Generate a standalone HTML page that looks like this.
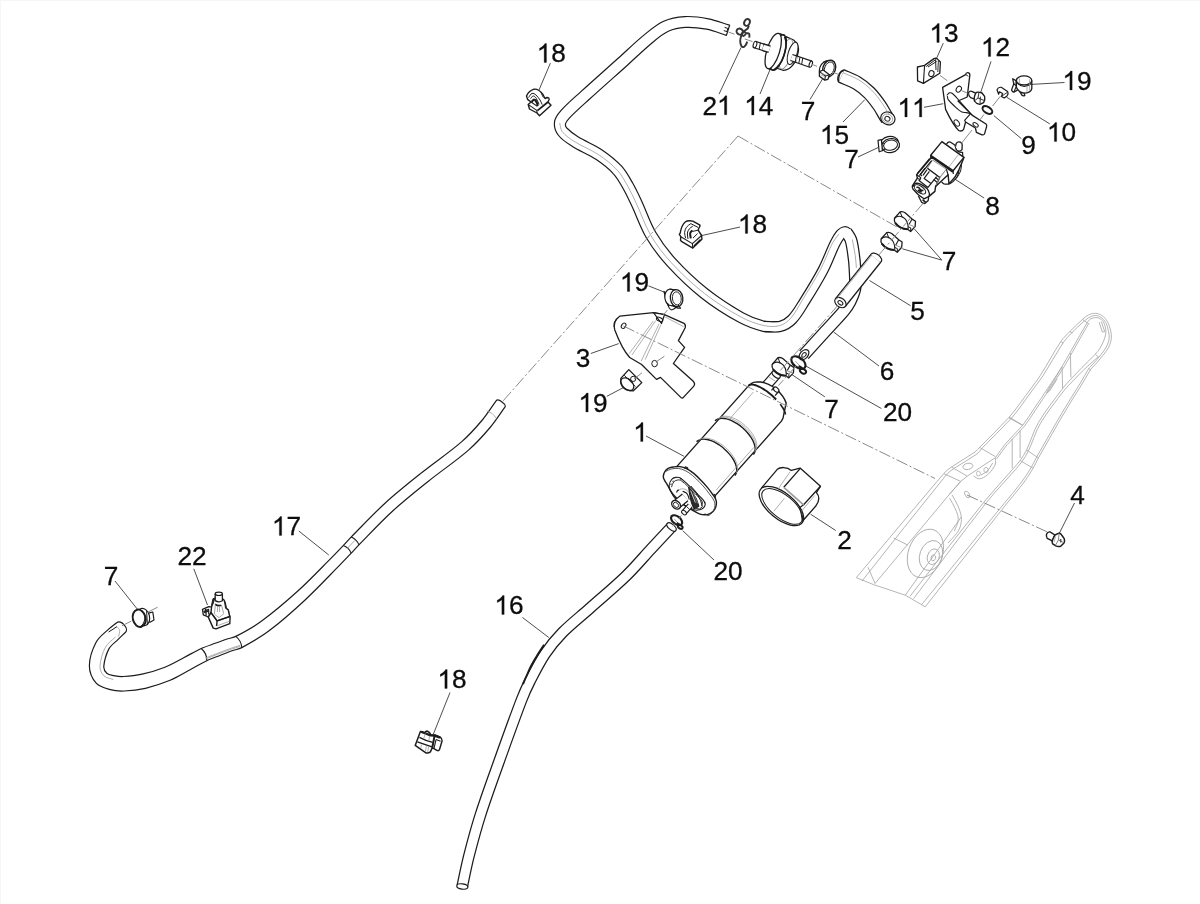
<!DOCTYPE html>
<html><head><meta charset="utf-8"><title>Diagram</title>
<style>
html,body{margin:0;padding:0;background:#fff;}
body{width:1200px;height:904px;overflow:hidden;}
svg{display:block;}
text{font-family:"Liberation Sans",sans-serif;fill:#0c0c0c;stroke:#0c0c0c;stroke-width:0.3px;}
.g{fill:#0c0c0c;stroke:#0c0c0c;stroke-width:24px;}
path,line,ellipse{stroke-linejoin:round;}
</style></head><body>
<svg width="1200" height="904" viewBox="0 0 1200 904">
<rect x="0" y="0" width="1200" height="904" fill="#fff"/>
<path d="M0 0.5H1200M0.5 0V904" stroke="#f6f6f6" stroke-width="1" fill="none" id="edgeline"/>
<g id="frame">
<path d="M856.3 577.7 C885.4 543 914.2 508 943.7 473.6 C945.9 471 948.7 468.9 951.5 467 C959.1 461.7 967.4 457.3 975 452 C976.8 450.8 978.1 448.9 979.6 447.4 C989.4 437.4 999.5 427.7 1009 417.4 C1012.6 413.5 1015.6 409.2 1018.8 405 C1022.6 400.1 1026.2 395 1029.9 390 C1033.5 385.1 1037.2 380.3 1040.5 375.2 C1047.6 364.1 1053.5 352.4 1060.9 341.5 C1063.5 337.6 1067.1 334.4 1070.4 331 C1074.3 327 1078.3 323.1 1082.5 319.4 C1084.4 317.7 1086.3 316 1088.6 314.9 C1090.7 313.9 1093 313.2 1095.3 313.3 C1097.6 313.4 1100 314.2 1101.9 315.5 C1104.2 317 1106 319.2 1107.4 321.6 C1109 324.5 1110 327.8 1110.7 331 C1111.3 333.5 1111.6 336.1 1111.3 338.7 C1110.9 341.8 1109.9 344.8 1108.5 347.6 C1107.1 350.4 1104.9 352.8 1103 355.3 C1101.2 357.6 1099.4 359.8 1097.5 362 C1095.3 364.5 1093 366.8 1090.8 369.2" fill="none" stroke="#adadad" stroke-width="0.9" />
<path d="M862 581 C890.1 545.6 917.7 509.9 946.3 474.9 C948.5 472.2 951.4 470.2 954.2 468.3 C961.6 463.3 969.7 459.2 977 454 C978.9 452.6 980 450.4 981.6 448.7 C991.5 438.4 1001.9 428.5 1011.6 418 C1015 414.3 1018 410.1 1021 406 C1024.9 400.7 1028.6 395.3 1032.5 390 C1036 385.2 1039.8 380.7 1043 375.8 C1050 364.9 1056 353.4 1063.2 342.6 C1065.7 338.9 1068.9 335.8 1072 332.6 C1075.9 328.6 1080 324.7 1084.2 321 C1085.9 319.5 1087.7 318.2 1089.7 317.2 C1091.4 316.3 1093.3 315.5 1095.3 315.5 C1097.2 315.5 1099.2 316.1 1100.8 317.2 C1102.8 318.6 1104.6 320.5 1105.8 322.7 C1107.3 325.4 1107.9 328.5 1108.5 331.5 C1109 333.9 1109.4 336.3 1109.1 338.7 C1108.7 341.6 1107.6 344.4 1106.3 347 C1105 349.6 1103 351.9 1101.3 354.2 C1099.7 356.3 1098.1 358.3 1096.4 360.3 C1094.2 362.8 1091.9 365.2 1089.6 367.6" fill="none" stroke="#adadad" stroke-width="0.9" />
<path d="M1090.8 369.2 C1087.9 374.2 1085 379.2 1082 384.1 C1078.7 389.4 1075.3 394.7 1072 400 C1067.9 406.6 1063.9 413.3 1060 420 C1052.7 432.6 1045.5 445.2 1038.4 457.9 C1036.5 461.3 1035.1 465 1033.1 468.3 C1029.9 473.7 1026.5 479 1022.7 484 C1017.3 491.2 1011.3 497.9 1005.7 504.9 C978.8 538.8 952 572.8 925.2 606.8" fill="none" stroke="#adadad" stroke-width="0.9" />
<path d="M1089.2 367.8 C1086.3 372.9 1083.4 378 1080.4 383 C1077.2 388.4 1073.7 393.6 1070.4 399 C1066.3 405.6 1062.3 412.3 1058.4 419 C1051.1 431.5 1043.9 444.1 1036.8 456.8 C1034.9 460.2 1033.4 463.9 1031.4 467.2 C1028.2 472.5 1024.8 477.8 1021 482.8 C1015.6 490 1009.7 496.7 1004 503.6 C976.5 537.3 949.1 570.9 921.6 604.6" fill="none" stroke="#adadad" stroke-width="0.9" />
<path d="M856.3 577.7 L873.8 584.7 L905.3 595.2 L925.2 606.8" fill="none" stroke="#adadad" stroke-width="0.9" />
<path d="M1087.5 322.1 C1084.9 326.5 1082.3 331 1079.8 335.4 C1076.6 340.9 1073.6 346.5 1070.4 352 C1067.7 356.8 1065 361.7 1062.1 366.4 C1058.9 371.6 1055.5 376.8 1052.1 381.9 C1048.4 387.5 1044.7 393 1041 398.5 C1038.8 401.7 1036.6 405 1034.4 408.2 C1030.5 413.9 1027 419.9 1022.7 425.2 C1017.4 431.7 1011 437.1 1005.7 443.5 C1001.9 448 998.8 453.1 995.3 457.9" fill="none" stroke="#adadad" stroke-width="0.9" />
<path d="M1089 323 C1086.5 327.4 1083.9 331.8 1081.4 336.2 C1078.2 341.7 1075.1 347.3 1072 352.8 C1069.3 357.6 1066.7 362.5 1063.8 367.2 C1060.6 372.5 1057.2 377.6 1053.8 382.8 C1050.1 388.4 1046.3 393.9 1042.6 399.4 C1040.4 402.7 1038.2 405.9 1036 409.2 C1032.1 414.9 1028.7 420.9 1024.4 426.2 C1019.2 432.6 1012.8 438.1 1007.4 444.4 C1003.5 449 1000.2 454.1 996.6 459" fill="none" stroke="#adadad" stroke-width="0.9" />
<path d="M1087.5 322.1 C1088.6 321 1089.4 319.4 1090.8 318.8 C1092.9 317.9 1095.3 317.4 1097.5 317.7 C1099.4 318 1101.2 319.1 1102.4 320.5 C1103.9 322.2 1104.6 324.4 1105.2 326.6 C1105.8 328.7 1106 331 1105.8 333.2 C1105.5 335.9 1104.6 338.4 1103.6 340.9 C1102.5 343.6 1101.2 346.2 1099.7 348.7 C1098.5 350.7 1096.9 352.5 1095.3 354.2 C1091 358.8 1086.4 363 1082 367.5 C1078.3 371.3 1074.5 375.2 1070.9 379.1 C1068.1 382.2 1065.1 385.2 1062.6 388.5 C1054.3 399.7 1045.4 410.6 1038.4 422.6 C1033.4 431.2 1030.9 441 1026.6 450 C1024.8 453.7 1022.5 457.1 1020.1 460.5 C1018.1 463.3 1015.8 465.7 1013.6 468.3 C1004.1 479.2 993.9 489.7 984.8 501 C959.4 532.4 934.9 564.5 910 596.3" fill="none" stroke="#adadad" stroke-width="0.9" />
<path d="M1098 357 C1093.3 361.2 1088.5 365.3 1084 369.6 C1080.2 373.2 1076.7 377 1073.1 380.8 C1070.1 383.9 1066.9 386.8 1064.3 390.2 C1055.9 401.1 1047.2 411.9 1040.2 423.8 C1035.2 432.3 1032.7 442.1 1028.4 451 C1026.6 454.7 1024.4 458.2 1022 461.6 C1020 464.4 1017.7 467 1015.4 469.6 C1005.9 480.6 995.6 491 986.6 502.4 C961.7 534 937.9 566.5 913.6 598.6" fill="none" stroke="#adadad" stroke-width="0.9" />
<path d="M1099.1 322.1 L1102.4 332.1 L1104.7 331.5 L1101.3 321.6" fill="none" stroke="#adadad" stroke-width="0.9" />
<path d="M1070.4 353.1 L1070.9 377.5" fill="none" stroke="#adadad" stroke-width="0.9" />
<path d="M1062.1 367 L1062.6 388.5" fill="none" stroke="#adadad" stroke-width="0.9" />
<path d="M1012.2 439 L1012.2 468.3" fill="none" stroke="#adadad" stroke-width="0.9" />
<path d="M1020.1 430.5 L1020.1 457.9" fill="none" stroke="#adadad" stroke-width="0.9" />
<path d="M1082.5 319.4 L1088.2 323.4" fill="none" stroke="#adadad" stroke-width="0.9" />
<path d="M1069.6 331.4 L1072.6 333" fill="none" stroke="#adadad" stroke-width="0.9" />
<path d="M1060.9 341.5 L1063.4 343" fill="none" stroke="#adadad" stroke-width="0.9" />
<path d="M1095.3 354.2 L1099 357.6" fill="none" stroke="#adadad" stroke-width="0.9" />
<path d="M1088.8 368.4 L1091.2 370.6" fill="none" stroke="#adadad" stroke-width="0.9" />
<path d="M1026.6 450 L1038.4 457.9" fill="none" stroke="#adadad" stroke-width="0.9" />
<path d="M1020.1 460.5 L1033.1 468.3" fill="none" stroke="#adadad" stroke-width="0.9" />
<path d="M979.6 447.4 L995.3 456.6" fill="none" stroke="#adadad" stroke-width="0.9" />
<path d="M951.5 467 L967.2 476.2" fill="none" stroke="#adadad" stroke-width="0.9" />
<path d="M943.7 473.6 L960.7 481.4" fill="none" stroke="#adadad" stroke-width="0.9" />
<path d="M893.7 538 L907.7 545" fill="none" stroke="#adadad" stroke-width="0.9" />
<path d="M868 567.2 L875 583.5" fill="none" stroke="#adadad" stroke-width="0.9" />
<path d="M1009 417.4 L1022.7 425.2" fill="none" stroke="#adadad" stroke-width="1.3" />
<path d="M1062.1 366.4 L1056 377 L1048 390 L1046.6 393 L1049.6 391 L1057 379" fill="none" stroke="#adadad" stroke-width="0.9" />
<path d="M995.3 457.9 L990 461.1 L967.2 476.2 L960.7 481.4 L949.7 494" fill="none" stroke="#adadad" stroke-width="0.9" />
<ellipse cx="967.9" cy="466.4" rx="5" ry="3.1" transform="rotate(-12 967.9 466.4)" fill="none" stroke="#adadad" stroke-width="0.9"/>
<path d="M995.3 457.9 C995.4 459.6 995.8 461.3 995.6 463 C995.4 464.4 994.8 465.8 994 467 C992.1 469.8 990.1 472.7 987.4 474.9 C985.2 476.7 982.5 478.5 979.6 478.8 C977.5 479 975.7 477.1 973.7 476.2" fill="none" stroke="#adadad" stroke-width="0.9" />
<path d="M992.6 463 C990.9 465.7 989.6 468.7 987.4 471 C985.6 472.8 983 473.7 980.8 475" fill="none" stroke="#adadad" stroke-width="0.9" />
<ellipse cx="986" cy="470" rx="2.2" ry="2.6" transform="rotate(0 986 470)" fill="none" stroke="#adadad" stroke-width="0.8"/>
<ellipse cx="978.4" cy="473.6" rx="2" ry="2.4" transform="rotate(0 978.4 473.6)" fill="none" stroke="#adadad" stroke-width="0.8"/>
<ellipse cx="967.2" cy="494.4" rx="2" ry="3.5" transform="rotate(-30 967.2 494.4)" fill="none" stroke="#adadad" stroke-width="0.9"/>
<path d="M960.7 481.4 L949.7 494 L875 583.5" fill="none" stroke="#adadad" stroke-width="0.9" />
<path d="M952 494.8 C954 498.5 956.4 502.1 958 506 C959.5 509.5 960.8 513.2 961.3 517 C961.7 520 961.2 523.1 960.4 526 C959.7 528.6 958.3 531.1 956.7 533.3 C954.1 536.8 950.9 539.8 948 543" fill="none" stroke="#adadad" stroke-width="0.9" />
<path d="M949.6 498.2 C951.5 501.8 953.9 505.2 955.4 509 C956.8 512.4 958.5 515.9 958.3 519.6 C958.1 523.6 955.7 527.2 954.4 531" fill="none" stroke="#adadad" stroke-width="0.9" />
<path d="M961.3 517 L905.3 595.2" fill="none" stroke="#adadad" stroke-width="0.9" />
<ellipse cx="925.4" cy="553.4" rx="17" ry="25" transform="rotate(20 925.4 553.4)" fill="none" stroke="#adadad" stroke-width="0.9"/>
<ellipse cx="931" cy="555.5" rx="11.2" ry="15.4" transform="rotate(20 931 555.5)" fill="none" stroke="#adadad" stroke-width="0.9"/>
<ellipse cx="933.3" cy="556.7" rx="5.8" ry="8" transform="rotate(20 933.3 556.7)" fill="none" stroke="#adadad" stroke-width="0.9"/>
<ellipse cx="933.3" cy="557.8" rx="2.2" ry="3" transform="rotate(20 933.3 557.8)" fill="none" stroke="#adadad" stroke-width="0.9"/>
</g>
<g id="hoseA">
<path d="M729.6 25.2 C722.5 23.1 715.7 20.2 708.5 18.8 C700.7 17.3 692.7 16.2 684.7 16.6 C677.5 17 670.2 18.3 663.7 21.3 C656.4 24.6 650.2 30 643.9 35.1 C635.2 42.2 627.1 50.2 618.7 57.8 C606.2 69 593.6 80.1 581.2 91.4 C574.3 97.7 567 103.7 560.9 110.7 C558 114 554.9 117.8 554.5 122.2 C554 126.6 555.5 131.4 558.2 135 C561.7 139.8 567 143 572 146.2 C579.6 151.1 588.3 154.2 595.9 159.3 C602.2 163.5 608.3 168.2 613.4 173.8 C617.5 178.1 620.3 183.6 623.2 188.7 C626.3 194.1 628.9 199.7 631.5 205.3 C636.6 216.1 640.3 227.5 646.3 237.7 C652.4 247.9 659.6 257.4 667.6 266.1 C678 277.4 689.1 288.1 701.2 297.7 C712.9 306.9 725.5 314.9 738.5 322.1 C746.1 326.2 754.4 329.3 762.9 331.3 C768.4 332.5 774.2 331.4 779.9 331.5 C779.9 331.5 780.1 321.5 780.1 321.5 C775.1 321.4 770 322.5 765.1 321.3 C757.6 319.6 750.3 316.7 743.5 312.9 C731 306 719 298.2 707.8 289.3 C696.2 280.1 685.4 269.9 675.4 258.9 C668 250.8 661.2 241.8 655.7 232.3 C649.8 222.3 646.4 211.1 641.5 200.7 C638.7 194.8 636 188.9 632.8 183.3 C629.4 177.4 626.2 171.2 621.6 166.2 C615.9 160 609.1 154.7 602.1 149.9 C594.5 144.8 585.8 141.6 578 136.8 C574 134.3 570.1 131.4 566.8 128 C565.8 126.9 565.2 125.2 565.5 123.8 C566 121.7 567.6 119.9 569.1 118.3 C575.4 111.8 582.2 105.8 588.8 99.8 C601.2 88.5 613.8 77.4 626.3 66.2 C634.6 58.7 642.5 50.9 651.1 43.7 C656.5 39.2 661.9 34.3 668.3 31.3 C673.6 28.8 679.5 27.7 685.3 27.4 C692.4 27 699.5 27.9 706.5 29.2 C713.3 30.5 719.8 33.3 726.4 35.4 C726.4 35.4 729.6 25.2 729.6 25.2 Z" fill="#fff" stroke="#1c1c1c" stroke-width="1.2" />
<path d="M846 231.8 C847.6 234.4 849.8 236.8 850.8 239.7 C852.4 244.6 852.9 249.7 853.6 254.8 C854.3 259.2 854.7 263.6 854.9 268 C855.2 274.8 856 281.6 855 288.3 C854.2 293.3 851.8 298 849.6 302.6 C848.1 305.6 846.1 308.3 843.9 310.9 C837.5 318.4 830.6 325.5 824 332.8 C817.3 340.1 810.7 347.4 804 354.7" fill="none" stroke="#1c1c1c" stroke-width="12.8" />
<path d="M764 326.3 C769.3 326.4 774.8 327.8 780 326.5 C784.5 325.4 788.8 322.8 792 319.5 C797.1 314.3 800.6 307.7 804.5 301.5 C811 291.2 817.4 280.9 823 270.2 C827.5 261.7 830.6 252.5 834.8 243.9 C836.4 240.6 838.1 237.4 840.4 234.6 C841.6 233.2 843.2 231.9 845 231.7 C846.4 231.6 847.3 233.1 848.5 233.8" fill="none" stroke="#1c1c1c" stroke-width="11.2" />
<path d="M846 231.8 C847.6 234.4 849.8 236.8 850.8 239.7 C852.4 244.6 852.9 249.7 853.6 254.8 C854.3 259.2 854.7 263.6 854.9 268 C855.2 274.8 856 281.6 855 288.3 C854.2 293.3 851.8 298 849.6 302.6 C848.1 305.6 846.1 308.3 843.9 310.9 C837.5 318.4 830.6 325.5 824 332.8 C817.3 340.1 810.7 347.4 804 354.7" fill="none" stroke="#fff" stroke-width="10.3" />
<path d="M764 326.3 C769.3 326.4 774.8 327.8 780 326.5 C784.5 325.4 788.8 322.8 792 319.5 C797.1 314.3 800.6 307.7 804.5 301.5 C811 291.2 817.4 280.9 823 270.2 C827.5 261.7 830.6 252.5 834.8 243.9 C836.4 240.6 838.1 237.4 840.4 234.6 C841.6 233.2 843.2 231.9 845 231.7 C846.4 231.6 847.3 233.1 848.5 233.8" fill="none" stroke="#fff" stroke-width="8.8" />
<path d="M704.5 293.5 C716.7 301.5 728.2 310.5 741 317.5 C748.2 321.5 756 324.5 764 326.3 C769.2 327.5 774.7 326.4 780 326.5" fill="none" stroke="#fff" stroke-width="8" />
<path d="M559.7 123.1 C560.6 126 560.4 129.4 562.3 131.7 C565.6 135.9 570.3 138.9 574.8 141.8 C582.5 146.6 591.3 149.8 598.8 154.8 C605.5 159.3 611.9 164.3 617.3 170.2 C621.6 174.9 624.6 180.6 627.7 186.1 C630.9 191.6 633.5 197.4 636.2 203.1 C641.2 213.7 644.8 225.1 650.7 235.2 C656.5 245 663.5 254.3 671.3 262.7 C681.5 273.8 692.6 284.2 704.5 293.5 C716 302.4 728.4 310.3 741.2 317.1 C748.4 321 756.2 323.9 764.2 325.6 C769.2 326.7 774.8 327 779.8 325.6 C784 324.4 787.8 321.5 790.7 318.2 C795.5 312.9 798.6 306.2 802.3 300.1 C808.6 289.8 815.1 279.6 820.7 269 C825.2 260.5 828.2 251.3 832.6 242.8 C834.4 239.6 836.9 236.8 839 233.8" fill="none" stroke="#9a9a9a" stroke-width="0.8" />
<path d="M852.3 239.4 C853.2 244.5 854.4 249.5 855.1 254.6 C855.8 259 856 263.4 856.4 267.9" fill="none" stroke="#9a9a9a" stroke-width="0.8" />
<path d="M724.6 27.4 L727.8 28.4 L727 31.6 L723.8 30.6" fill="#fff" stroke="#1c1c1c" stroke-width="1" />
</g>
<ellipse cx="804" cy="354.7" rx="5.9" ry="3.9" transform="rotate(-48 804 354.7)" fill="#fff" stroke="#1c1c1c" stroke-width="1.2"/>
<ellipse cx="804" cy="354.9" rx="2.7" ry="1.7" transform="rotate(-48 804 354.9)" fill="none" stroke="#1c1c1c" stroke-width="1"/>
<g id="hose5">
<ellipse cx="876.2" cy="257.8" rx="6.3" ry="3.6" transform="rotate(37 876.2 257.8)" fill="#fff" stroke="#1c1c1c" stroke-width="1.2"/>
<path d="M875.6 258.6 L840.4 302.6" fill="none" stroke="#1c1c1c" stroke-width="13.7" stroke-linecap="butt"/>
<path d="M875.6 258.6 L840.4 302.6" fill="none" stroke="#fff" stroke-width="11.2" stroke-linecap="butt"/>
<ellipse cx="840.4" cy="302.6" rx="6.3" ry="4.4" transform="rotate(37 840.4 302.6)" fill="#fff" stroke="#1c1c1c" stroke-width="1.2"/>
<ellipse cx="840.4" cy="302.8" rx="2.8" ry="1.8" transform="rotate(37 840.4 302.8)" fill="none" stroke="#1c1c1c" stroke-width="1"/>
<line x1="872" y1="255" x2="836.6" y2="299.4" stroke="#9a9a9a" stroke-width="0.8" />
</g>
<g id="hose17">
<path d="M496.1 400.8 C491.4 407.4 487.1 414.3 481.9 420.5 C475.5 428.1 468.9 435.5 461.5 441.9 C448.8 452.9 434.7 462.3 421.6 472.8 C409.3 482.6 396.9 492.4 385.3 503 C373.4 513.8 362.4 525.7 351.1 537.1 C348.4 539.9 345.9 542.8 343.2 545.6 C339.9 549.1 336.5 552.7 333.1 556.1 C321.5 567.7 310.3 579.7 298.1 590.8 C286.3 601.5 274.2 611.9 261.3 621.3 C253.4 627.1 244.6 631.8 235.8 636.4 C233.4 637.7 230.5 637.9 227.9 638.8 C223.6 640.2 219.4 641.8 215.2 643.3 C210.5 645 205.7 646.5 201.2 648.5 C195.2 651.3 189.6 654.7 183.7 657.7 C177.5 661 171.4 664.6 164.9 667.2 C157.5 670.1 149.9 672.4 142.1 674.2 C136 675.6 129.7 676.2 123.4 676.5 C120.2 676.7 116.9 676.2 113.8 675.6 C111.4 675.1 108.6 674.9 106.8 673.2 C105 671.6 103.6 668.9 103.8 666.4 C104.4 660.4 106.1 654.3 108.9 648.9 C110.9 645.1 114.8 642.7 117.9 639.6 C120.3 637.2 122.8 634.9 125.3 632.5 C129.5 628.8 120.9 619 116.7 622.7 C113.9 625 110.8 627.1 108.1 629.6 C103.9 633.6 98.7 637.1 96.1 642.3 C92.3 649.6 89.3 657.8 89.4 666 C89.4 672.1 92.1 678.5 96.2 683.2 C99.6 687 105.3 688.2 110.2 689.6 C114.7 690.9 119.4 691.2 124.1 691 C131.2 690.7 138.4 689.9 145.4 688.3 C153.8 686.4 162.1 683.6 170.1 680.3 C177.1 677.4 183.4 673.3 190.1 669.8 C195.7 666.8 201.1 663.4 206.8 660.7 C211 658.7 215.5 657.2 219.8 655.5 C223.9 653.9 228 652.3 232.1 650.8 C235.3 649.7 238.8 649.2 241.8 647.6 C251 642.6 260.3 637.5 268.7 631.1 C281.7 621.3 293.9 610.4 305.9 599.2 C318 587.9 329.3 575.7 340.9 563.9 C344.4 560.4 347.8 556.8 351.2 553.2 C353.8 550.4 356.3 547.6 358.9 544.9 C370.1 533.5 380.9 521.8 392.7 511 C404.1 500.5 416.3 490.9 428.4 481.2 C441.6 470.6 455.8 461.2 468.5 450.1 C476.4 443.2 483.4 435.4 490.1 427.5 C495.5 421.1 500 413.9 504.9 407.2 C506.9 404.4 498.2 398 496.1 400.8 Z" fill="#fff" stroke="#1c1c1c" stroke-width="1.2" />
<path d="M351.1 537.1 Q356.7 539.3 358.9 544.9" fill="none" stroke="#1c1c1c" stroke-width="1.1" />
<path d="M343.2 545.6 Q348.9 547.7 351.2 553.2" fill="none" stroke="#1c1c1c" stroke-width="1.1" />
<path d="M235.8 636.4 Q241.3 640.7 241.8 647.6" fill="none" stroke="#1c1c1c" stroke-width="1.1" />
<path d="M201.2 648.5 Q206.9 653.2 206.8 660.7" fill="none" stroke="#1c1c1c" stroke-width="1.1" />
<path d="M239.9 645.4 C237 646.4 234.1 647.2 231.2 648.2 C227 649.6 222.9 651.2 218.8 652.8 C214.3 654.5 209.8 656.2 205.3 658" fill="none" stroke="#9a9a9a" stroke-width="0.8" />
<path d="M240.2 646.4 C237.3 647.3 234.4 648.1 231.5 649.1 C227.4 650.6 223.2 652.2 219.1 653.7 C214.6 655.4 210.1 657.2 205.7 658.9" fill="none" stroke="#9a9a9a" stroke-width="0.8" />
<path d="M354.6 540.6 L346.8 549" fill="none" stroke="#9a9a9a" stroke-width="0.8" />
<path d="M113.3 679.5 C110.2 678.3 106.3 678.2 104 675.9 C101.5 673.4 99.8 669.8 100 666.3 C100.4 659.7 102.4 653 105.5 647.2 C107.7 643 112.1 640.4 115.5 636.9" fill="none" stroke="#9a9a9a" stroke-width="0.8" />
<path d="M108.6 632 L117 626.6" fill="none" stroke="#1c1c1c" stroke-width="1" />
<path d="M117 626.6 C117.9 627.9 119.4 628.9 119.6 630.4 C119.9 632.5 118.9 634.5 118.6 636.6" fill="none" stroke="#9a9a9a" stroke-width="0.8" />
<path d="M486.6 411 C488.4 411.8 490.4 412.2 492 413.4 C493.8 414.7 494.9 416.7 496.4 418.4" fill="none" stroke="#9a9a9a" stroke-width="0.8" />
</g>
<g id="hose16">
<path d="M671.5 527 C664.7 534.3 657.8 541.7 651 549 C642.7 558 634.8 567.5 626 576 C614.1 587.5 601.3 598 589 609 C580.2 616.8 570.8 624.1 562.5 632.5 C556 639.1 550.1 646.3 545 654 C539.3 662.6 534.7 671.8 530 681 C526.8 687.2 524 693.5 521.5 700 C513.5 720.9 506 741.9 498.5 763 C492.3 780.3 486 797.5 480.4 815 C476.1 828.4 472.5 842 469 855.6 C466.4 865.7 464.5 875.9 462.3 886" fill="none" stroke="#1c1c1c" stroke-width="11.8" stroke-linecap="butt"/>
<path d="M671.5 527 C664.7 534.3 657.8 541.7 651 549 C642.7 558 634.8 567.5 626 576 C614.1 587.5 601.3 598 589 609 C580.2 616.8 570.8 624.1 562.5 632.5 C556 639.1 550.1 646.3 545 654 C539.3 662.6 534.7 671.8 530 681 C526.8 687.2 524 693.5 521.5 700 C513.5 720.9 506 741.9 498.5 763 C492.3 780.3 486 797.5 480.4 815 C476.1 828.4 472.5 842 469 855.6 C466.4 865.7 464.5 875.9 462.3 886" fill="none" stroke="#fff" stroke-width="9.3" stroke-linecap="butt"/>
<path d="M544.1 644.8 C541.8 648.3 539.5 651.7 537.4 655.1 C535.3 658.5 533.1 661.9 531.3 665.5 C529.1 669.8 527.3 674.3 525.3 678.7 C524.5 680.5 523.8 682.4 523 684.2" fill="none" stroke="#1c1c1c" stroke-width="1.9" />
<ellipse cx="462.3" cy="886.5" rx="5.6" ry="2.6" transform="rotate(8 462.3 886.5)" fill="#fff" stroke="#1c1c1c" stroke-width="1.2"/>
<ellipse cx="671.5" cy="527" rx="5.6" ry="2.8" transform="rotate(40 671.5 527)" fill="#fff" stroke="#1c1c1c" stroke-width="1.2"/>
</g>
<g id="hose15">
<ellipse cx="841.8" cy="76.2" rx="3.4" ry="6.6" transform="rotate(24 841.8 76.2)" fill="#fff" stroke="#1c1c1c" stroke-width="1.2"/>
<path d="M841.5 76 C846.5 78.3 851.8 80 856.5 82.8 C861 85.5 865.2 88.9 869 92.6 C872.9 96.4 876.1 100.9 879.3 105.3 C881.8 108.8 883.7 112.8 886 116.5 C886.5 117.3 887.1 118.2 887.6 119" fill="none" stroke="#1c1c1c" stroke-width="14.7" stroke-linecap="butt"/>
<path d="M841.5 76 C846.5 78.3 851.8 80 856.5 82.8 C861 85.5 865.2 88.9 869 92.6 C872.9 96.4 876.1 100.9 879.3 105.3 C881.8 108.8 883.7 112.8 886 116.5 C886.5 117.3 887.1 118.2 887.6 119" fill="none" stroke="#fff" stroke-width="12.2" stroke-linecap="butt"/>
<path d="M844.4 70.1 C843.1 70.9 841.6 71.4 840.6 72.6 C839.7 73.7 839.3 75.2 839 76.6 C838.6 78.3 838.7 80.1 838.6 81.8" fill="none" stroke="#1c1c1c" stroke-width="1.2" />
<ellipse cx="887.9" cy="118.4" rx="7.3" ry="6.2" transform="rotate(25 887.9 118.4)" fill="#fff" stroke="#1c1c1c" stroke-width="1.2"/>
<ellipse cx="887.4" cy="118.8" rx="2.6" ry="2.3" transform="rotate(25 887.4 118.8)" fill="none" stroke="#1c1c1c" stroke-width="1"/>
<ellipse cx="887.6" cy="118.6" rx="5.2" ry="4.4" transform="rotate(25 887.6 118.6)" fill="none" stroke="#9a9a9a" stroke-width="0.8"/>
<path d="M843 72.7 C848.1 75.1 853.5 76.8 858.4 79.7 C863.1 82.6 867.6 86.1 871.5 90 C875.6 94 878.9 98.6 882.2 103.2 C884.8 106.8 886.8 110.8 889.1 114.7" fill="none" stroke="#9a9a9a" stroke-width="0.8" />
</g>
<g id="can">
<path d="M765.3 386.9 L776.2 374.5" fill="none" stroke="#1c1c1c" stroke-width="10.6" stroke-linecap="butt"/>
<path d="M765.3 386.9 L776.2 374.5" fill="none" stroke="#fff" stroke-width="8.2" stroke-linecap="butt"/>
<ellipse cx="776.2" cy="374.5" rx="4.8" ry="2.7" transform="rotate(41.4 776.2 374.5)" fill="#fff" stroke="#1c1c1c" stroke-width="1.2"/>
<line x1="769.1" y1="377" x2="775.1" y2="381.1" stroke="#9a9a9a" stroke-width="0.8" />
<path d="M672.7 471.1 L748.7 385.6 L751 383.7 L753.8 382.4 L757.1 381.9 L760.8 382 L764.6 382.8 L768.6 384.3 L772.4 386.5 L776.1 389.1 L779.4 392.3 L782.3 395.7 L784.6 399.4 L786.2 403.1 L784 413 L783.1 418 L781.4 421.1 L706.1 505.9Z" fill="#fff" stroke="#1c1c1c" stroke-width="1.4" />
<path d="M748.7 385.6 C749 385.4 749.3 385.1 749.7 384.9 C750.1 384.7 750.6 384.6 751.1 384.6 C751.7 384.5 752.3 384.5 752.8 384.6 C753.5 384.7 754.2 384.8 754.9 385 C755.7 385.3 756.5 385.5 757.2 385.8 C758.1 386.2 759 386.6 759.8 387 C760.7 387.5 761.6 388 762.5 388.5 C763.4 389.1 764.4 389.7 765.3 390.3 C766.3 390.9 767.2 391.6 768.1 392.3 C769.1 393.1 770 393.8 770.9 394.6 C771.9 395.4 772.8 396.2 773.6 397 C774.5 397.8 775.3 398.7 776.2 399.5" fill="none" stroke="#1c1c1c" stroke-width="1.9" />
<path d="M780.3 404.2 C780.5 404.6 780.8 404.9 781 405.2 C781.2 405.5 781.5 405.8 781.7 406.2 C781.9 406.5 782.1 406.8 782.3 407.1 C782.5 407.4 782.7 407.7 782.9 408 C783.1 408.3 783.3 408.6 783.4 408.9 C783.6 409.2 783.7 409.5 783.9 409.8 C784 410.1 784.2 410.4 784.3 410.6 C784.4 410.9 784.5 411.2 784.6 411.5 C784.8 411.7 784.8 412 784.9 412.2 C785 412.5 785.1 412.7 785.2 413 C785.2 413.2 785.3 413.5 785.3 413.7 C785.4 413.9 785.4 414.1 785.4 414.4" fill="none" stroke="#1c1c1c" stroke-width="1.6" />
<path d="M771.5 390.4 L774.1 387.4 L778.8 391.5 L775 395.7" fill="#fff" stroke="#1c1c1c" stroke-width="1.2" />
<ellipse cx="776.2" cy="389.6" rx="3.1" ry="2" transform="rotate(41.4 776.2 389.6)" fill="#fff" stroke="#1c1c1c" stroke-width="1.2"/>
<path d="M696.5 441.7 C697.5 441.1 698.3 440.2 699.4 439.8 C700.7 439.3 702 439.1 703.4 439.1 C705 439.1 706.7 439.4 708.2 439.8 C710.1 440.3 711.9 440.9 713.6 441.7 C715.5 442.6 717.3 443.7 719.1 444.8 C720.9 446.1 722.7 447.4 724.3 448.9 C726 450.4 727.6 451.9 729 453.6 C730.4 455.2 731.7 456.9 732.8 458.7 C733.8 460.3 734.7 462 735.4 463.7 C736 465.2 736.5 466.8 736.7 468.4 C736.8 469.8 736.8 471.2 736.5 472.5 C736.2 473.6 735.5 474.5 734.9 475.6" fill="none" stroke="#1c1c1c" stroke-width="1.4" />
<path d="M698.8 440.1 C699.8 439.6 700.7 438.8 701.8 438.5 C703.1 438.2 704.5 438.1 705.8 438.1 C707.3 438.2 708.9 438.5 710.4 438.9 C712.2 439.4 713.8 440 715.5 440.8 C717.2 441.7 719 442.7 720.6 443.8 C722.3 444.9 724 446.2 725.5 447.5 C727.1 448.9 728.5 450.4 729.9 451.9 C731.2 453.4 732.4 455 733.5 456.7 C734.4 458.2 735.3 459.8 736 461.4 C736.6 462.9 737.1 464.4 737.3 466 C737.6 467.3 737.6 468.6 737.4 469.9 C737.2 471 736.6 472 736.2 473.1" fill="none" stroke="#9a9a9a" stroke-width="0.8" />
<path d="M715 420.8 C715.9 420.1 716.8 419.3 717.9 418.8 C719.1 418.4 720.5 418.2 721.8 418.2 C723.5 418.2 725.1 418.4 726.7 418.9 C728.5 419.3 730.3 420 732 420.8 C733.9 421.7 735.8 422.8 737.5 423.9 C739.4 425.1 741.1 426.5 742.8 428 C744.4 429.4 746 431 747.5 432.7 C748.8 434.3 750.1 436 751.2 437.7 C752.2 439.3 753.1 441 753.8 442.8 C754.4 444.3 754.9 445.9 755.1 447.5 C755.3 448.8 755.3 450.2 755 451.5 C754.7 452.7 753.9 453.6 753.4 454.6" fill="none" stroke="#1c1c1c" stroke-width="1.4" />
<path d="M717.3 419.2 C718.3 418.7 719.2 417.9 720.3 417.6 C721.5 417.2 722.9 417.1 724.2 417.2 C725.8 417.3 727.4 417.5 728.9 418 C730.6 418.4 732.3 419.1 733.9 419.9 C735.7 420.7 737.4 421.7 739.1 422.8 C740.8 424 742.4 425.2 744 426.6 C745.5 428 747 429.5 748.3 431 C749.6 432.5 750.8 434.1 751.9 435.7 C752.9 437.3 753.8 438.9 754.4 440.5 C755.1 442 755.5 443.5 755.8 445 C756 446.3 756.1 447.7 755.9 449 C755.7 450.1 755.1 451.1 754.7 452.2" fill="none" stroke="#9a9a9a" stroke-width="0.8" />
<path d="M719 418 C720 417.5 720.9 416.8 722 416.5 C723.3 416.2 724.6 416.2 725.9 416.2 C727.5 416.3 729 416.6 730.5 417 C732.1 417.5 733.8 418.2 735.4 418.9 C737.1 419.7 738.7 420.7 740.3 421.8 C742 422.9 743.5 424.1 745 425.4 C746.5 426.7 747.9 428.1 749.2 429.6 C750.5 431.1 751.6 432.6 752.7 434.2 C753.6 435.7 754.5 437.2 755.2 438.8 C755.8 440.2 756.3 441.7 756.5 443.2 C756.8 444.5 756.9 445.8 756.7 447.1 C756.6 448.2 756 449.3 755.7 450.3" fill="none" stroke="#9a9a9a" stroke-width="0.8" />
<line x1="753.4" y1="392.1" x2="729.4" y2="419.3" stroke="#9a9a9a" stroke-width="0.8" />
<line x1="753.8" y1="447.4" x2="716.1" y2="490.2" stroke="#9a9a9a" stroke-width="0.8" />
<path d="M663.3 476.6 C663.4 474.8 664 472.9 665 471.4 C665.9 470 667.2 469 668.6 468.2 C670 467.5 671.6 467.2 673.2 467 C675.4 466.7 677.7 466.3 680 466.6 C682.3 466.9 684.5 467.6 686.5 468.6 C689.2 469.9 691.7 471.7 694 473.6 C696.7 475.8 699 478.2 701.4 480.7 C703.6 482.9 705.6 485.2 707.6 487.6 C709.5 489.9 711.3 492.3 713 494.8 C714 496.3 715.2 497.7 715.8 499.4 C716.3 500.7 716.5 502.2 716.4 503.6 C716.3 505.1 716 506.6 715.4 508 C714.8 509.3 714 510.4 713 511.4 C712 512.4 710.7 513.3 709.4 513.8 C708 514.4 706.4 514.7 704.8 514.7 C703 514.7 701.1 514.4 699.4 513.8 C697.8 513.3 696.3 512.3 694.8 511.4 C691.5 509.5 688.1 507.9 685 505.6 C681.7 503.1 678.6 500.3 675.7 497.3 C673.8 495.3 672.1 493.1 670.6 490.8 C669.4 488.9 668.5 486.8 667.4 484.9 C666.5 483.4 665.4 482 664.6 480.4 C664 479.2 663.2 477.9 663.3 476.6Z" fill="#fff" stroke="#1c1c1c" stroke-width="1.4" />
<path d="M665.4 471.6 C667.5 470.7 669.5 469.4 671.7 468.9 C673.9 468.4 676.2 468.2 678.5 468.5 C680.8 468.8 683 469.5 685 470.5 C687.7 471.8 690.2 473.6 692.5 475.5 C695.2 477.7 697.5 480.1 699.9 482.6 C702.1 484.8 704.1 487.1 706.1 489.5 C708 491.8 709.8 494.2 711.5 496.7 C712.5 498.2 713.7 499.6 714.3 501.3 C714.8 502.6 715 504.1 714.9 505.5 C714.8 507 714.5 508.5 713.9 509.9 C713.3 511.2 712.5 512.3 711.5 513.3 C710.5 514.3 709.3 515.7 707.9 515.7 C706.6 515.7 705.8 514 704.8 513.2" fill="none" stroke="#444" stroke-width="0.9" />
<path d="M669.1 485.7 C669.2 483.5 670.2 481.2 671.6 479.5 C672.6 478.3 674.2 477.7 675.7 477.4 C677.1 477.1 678.7 477.1 679.9 477.8 C683 479.7 685.5 482.4 688.2 484.9 C691.1 487.6 693.7 490.4 696.5 493.2 C698.7 495.4 701.1 497.4 703.1 499.8 C704.1 501 705 502.4 705.2 503.9 C705.3 505.1 704.7 506.4 703.9 507.3 C702.8 508.5 701.4 509.4 699.8 509.8 C697.9 510.3 695.8 510.4 694 509.8 C690.5 508.7 687.2 506.9 684 505 C681.1 503.3 678.1 501.4 675.7 499 C673.6 496.9 672.1 494.2 670.8 491.5 C669.9 489.7 669 487.7 669.1 485.7Z" fill="none" stroke="#1c1c1c" stroke-width="1.1" />
<path d="M671.5 487.2 C672.2 485.4 672.5 483.4 673.7 481.9 C674.5 480.9 675.9 480.4 677.2 480.1 C678.4 479.8 679.8 479.8 680.8 480.4 C683.5 482 685.6 484.4 687.9 486.5 C690.4 488.8 692.7 491.3 695.1 493.7 C697 495.6 699.1 497.3 700.8 499.4 C701.6 500.4 702.4 501.6 702.6 502.9 C702.7 503.9 701.8 504.8 701.4 505.8" fill="none" stroke="#1c1c1c" stroke-width="0.9" />
</g>
<g id="conn">
<path d="M684.4 468.4 L685.4 466.8 L687.6 467.8 L687.8 469.4" fill="none" stroke="#1c1c1c" stroke-width="1.2" />
<path d="M713.6 494 L715.2 495.4 L715.4 497.8" fill="none" stroke="#1c1c1c" stroke-width="1.2" />
<path d="M672.6 481 L673.4 481.6 M670.6 483.8 L671.4 484.6 M668.4 486.4 L669 487.2 M680.4 478.4 L681.2 479.4 M696.4 493.8 L697 494.6 M704.4 502 L705 503" fill="none" stroke="#1c1c1c" stroke-width="1.3" />
<path d="M677 491.6 C678.3 490.7 679.4 489.3 681 489 C682.6 488.6 684.5 488.9 686 489.6 C687.3 490.2 688 491.6 689 492.6" fill="none" stroke="#9a9a9a" stroke-width="0.8" />
<path d="M676.6 492.6 C676.9 491.9 676.9 491.1 677.4 490.6 C677.8 490.2 678.5 490.2 679 490" fill="none" stroke="#1c1c1c" stroke-width="1.1" />
<path d="M688.6 486.9 L692.3 491.5 L696.5 499 L699 506.4 L694 508.9 L691.5 503.1 L689.8 495.7Z" fill="#2b2b2b" stroke="#1c1c1c" stroke-width="1" />
<path d="M690.6 490.6 L695.4 502.6" fill="none" stroke="#e4e4e4" stroke-width="0.9" />
<path d="M693.4 493 L697.6 503.4" fill="none" stroke="#bbb" stroke-width="0.6" />
<path d="M690.8 486 L696.4 492.4 L700.6 500.6 L702.4 506.6" fill="none" stroke="#1c1c1c" stroke-width="1" />
<path d="M695.6 508.6 L699.6 509 L702.4 506.6" fill="none" stroke="#1c1c1c" stroke-width="1" />
<path d="M685.2 497.4 L676.1 504.8" fill="none" stroke="#1c1c1c" stroke-width="10.1" stroke-linecap="butt"/>
<path d="M685.2 497.4 L676.1 504.8" fill="none" stroke="#fff" stroke-width="7.6" stroke-linecap="butt"/>
<ellipse cx="676.1" cy="504.8" rx="4.9" ry="3.7" transform="rotate(41.4 676.1 504.8)" fill="#fff" stroke="#1c1c1c" stroke-width="1.4"/>
<ellipse cx="676" cy="504.9" rx="3" ry="2.1" transform="rotate(41.4 676 504.9)" fill="none" stroke="#1c1c1c" stroke-width="0.9"/>
<path d="M682.6 491.2 C684.1 492 685.9 492.3 687 493.6 C688.4 495.3 688.6 497.6 689.4 499.6" fill="none" stroke="#1c1c1c" stroke-width="1.1" />
<path d="M690.2 505.4 L684 512.6" fill="none" stroke="#1c1c1c" stroke-width="6.2" stroke-linecap="butt"/>
<path d="M690.2 505.4 L684 512.6" fill="none" stroke="#fff" stroke-width="3.9" stroke-linecap="butt"/>
<ellipse cx="684" cy="512.6" rx="2.8" ry="1.8" transform="rotate(41.4 684 512.6)" fill="#fff" stroke="#1c1c1c" stroke-width="1"/>
<path d="M686.6 506.6 L689.6 509.4" fill="none" stroke="#1c1c1c" stroke-width="0.9" />
</g>
<g id="p2">
<path d="M761.6 487.9 L777.3 469.3 C780 467 787 466.5 791.3 470.4 L800.1 468.1 L820.5 486.2 L816.4 492.6 C819.5 496 819.5 501 815.8 506 L802.4 521.2 Z" fill="#fff" stroke="#1c1c1c" stroke-width="1.3" />
<ellipse cx="781.4" cy="506" rx="26.7" ry="13" transform="rotate(39.2 781.4 506)" fill="#fff" stroke="#1c1c1c" stroke-width="1.3"/>
<ellipse cx="782.2" cy="506.4" rx="24.6" ry="11.4" transform="rotate(39.2 782.2 506.4)" fill="none" stroke="#1c1c1c" stroke-width="1"/>
<path d="M800.1 468.6 L783.8 487.3" fill="none" stroke="#1c1c1c" stroke-width="1.3" />
<path d="M820.5 486.2 L803.6 504.8 L799.5 507.8" fill="none" stroke="#1c1c1c" stroke-width="1.3" />
<path d="M799.5 507.8 C800 509.5 800.6 511.2 801 513 C801.6 515.6 801.9 518.3 802.4 521" fill="none" stroke="#1c1c1c" stroke-width="1.1" />
<path d="M783.8 487.3 L803.6 504.8" fill="none" stroke="#9a9a9a" stroke-width="1.6" />
<path d="M790.2 471.6 L778.5 488.5" fill="none" stroke="#9a9a9a" stroke-width="0.8" />
<path d="M784.3 498.4 L773.8 511.3" fill="none" stroke="#9a9a9a" stroke-width="0.8" />
<path d="M814.7 495.5 L801.8 510.7" fill="none" stroke="#9a9a9a" stroke-width="0.8" />
</g>
<g id="p3">
<path d="M619.7 316.2 L653.5 312.7 L664.5 314.7 L684 323.3 Q686 325 685.2 327.7 L678.4 340.6 L684.6 347.4 L673.4 363.5 L693 381 Q695.8 384 693.6 386.4 L683.4 397.4 Q682.2 398.8 680.8 397.4 L660.5 377.4 L656.5 379.4 L641.6 364.5 L629.7 357.5 Q622 349 614.7 329.7 Q612.6 321 619.7 316.2 Z" fill="#fff" stroke="#1c1c1c" stroke-width="1.3" />
<path d="M653.5 312.7 L664.5 314.7 L661.5 323.5Z" fill="#fff" stroke="#1c1c1c" stroke-width="1.2" />
<ellipse cx="659.6" cy="319.4" rx="3.4" ry="1.8" transform="rotate(25 659.6 319.4)" fill="none" stroke="#1c1c1c" stroke-width="1"/>
<ellipse cx="623.6" cy="325.8" rx="2" ry="2.9" transform="rotate(35 623.6 325.8)" fill="none" stroke="#1c1c1c" stroke-width="1"/>
<path d="M618.6 317.5 C617.2 319 615.4 320.2 614.5 322 C613.8 323.5 614.3 325.3 614.2 327" fill="none" stroke="#1c1c1c" stroke-width="1" />
<ellipse cx="654.6" cy="363.6" rx="2.8" ry="3.2" transform="rotate(0 654.6 363.6)" fill="none" stroke="#1c1c1c" stroke-width="1"/>
<line x1="653.1" y1="321.2" x2="629.2" y2="353.7" stroke="#9a9a9a" stroke-width="0.8" />
<line x1="655.8" y1="320.5" x2="631.9" y2="355" stroke="#9a9a9a" stroke-width="0.8" />
<line x1="659.1" y1="323.8" x2="641.2" y2="361" stroke="#9a9a9a" stroke-width="0.8" />
<line x1="661.1" y1="324.5" x2="645.2" y2="359.6" stroke="#9a9a9a" stroke-width="0.8" />
<line x1="664.4" y1="316.6" x2="683.6" y2="326.6" stroke="#9a9a9a" stroke-width="0.8" />
</g>
<g id="leaders">
<line x1="550.4" y1="63.1" x2="539" y2="90" stroke="#3a3a3a" stroke-width="0.9" />
<line x1="741" y1="47.5" x2="719" y2="94.2" stroke="#3a3a3a" stroke-width="0.9" />
<line x1="770" y1="69.6" x2="760" y2="94" stroke="#3a3a3a" stroke-width="0.9" />
<line x1="822.5" y1="79" x2="810" y2="99.5" stroke="#3a3a3a" stroke-width="0.9" />
<line x1="864.8" y1="99.7" x2="843" y2="122" stroke="#3a3a3a" stroke-width="0.9" />
<line x1="858" y1="157" x2="878" y2="147.6" stroke="#3a3a3a" stroke-width="0.9" />
<line x1="943.3" y1="43.1" x2="936.8" y2="57.8" stroke="#3a3a3a" stroke-width="0.9" />
<line x1="991" y1="61.4" x2="980" y2="94.5" stroke="#3a3a3a" stroke-width="0.9" />
<line x1="1064.5" y1="82.5" x2="1031.4" y2="84.4" stroke="#3a3a3a" stroke-width="0.9" />
<line x1="924" y1="107.3" x2="943.3" y2="103.7" stroke="#3a3a3a" stroke-width="0.9" />
<line x1="1049.8" y1="123.9" x2="1006.6" y2="97.2" stroke="#3a3a3a" stroke-width="0.9" />
<line x1="1021.3" y1="138.6" x2="993.8" y2="115.6" stroke="#3a3a3a" stroke-width="0.9" />
<line x1="984.1" y1="198" x2="955" y2="179.2" stroke="#3a3a3a" stroke-width="0.9" />
<line x1="740" y1="227" x2="702" y2="235.5" stroke="#3a3a3a" stroke-width="0.9" />
<line x1="941.8" y1="260.1" x2="914.5" y2="229.1" stroke="#3a3a3a" stroke-width="0.9" />
<line x1="941.8" y1="260.1" x2="902.3" y2="248.8" stroke="#3a3a3a" stroke-width="0.9" />
<line x1="648.6" y1="285.9" x2="668.5" y2="293.8" stroke="#3a3a3a" stroke-width="0.9" />
<line x1="590.8" y1="353.5" x2="618.7" y2="343.6" stroke="#3a3a3a" stroke-width="0.9" />
<line x1="606.8" y1="396.3" x2="625.7" y2="386.4" stroke="#3a3a3a" stroke-width="0.9" />
<line x1="910.7" y1="305.8" x2="869.5" y2="280.5" stroke="#3a3a3a" stroke-width="0.9" />
<line x1="879" y1="366" x2="833.6" y2="332" stroke="#3a3a3a" stroke-width="0.9" />
<line x1="881.4" y1="408.5" x2="805.6" y2="365.9" stroke="#3a3a3a" stroke-width="0.9" />
<line x1="824.9" y1="396.9" x2="791.6" y2="374.4" stroke="#3a3a3a" stroke-width="0.9" />
<line x1="646" y1="436" x2="684" y2="456.3" stroke="#3a3a3a" stroke-width="0.9" />
<line x1="1074.5" y1="503" x2="1059.3" y2="533.3" stroke="#3a3a3a" stroke-width="0.9" />
<line x1="835.7" y1="530.5" x2="810.6" y2="514.2" stroke="#3a3a3a" stroke-width="0.9" />
<line x1="714" y1="560" x2="682.7" y2="530.7" stroke="#3a3a3a" stroke-width="0.9" />
<line x1="298.8" y1="531" x2="328.8" y2="555" stroke="#3a3a3a" stroke-width="0.9" />
<line x1="193.8" y1="568.8" x2="207.5" y2="605" stroke="#3a3a3a" stroke-width="0.9" />
<line x1="115" y1="581" x2="138.8" y2="611" stroke="#3a3a3a" stroke-width="0.9" />
<line x1="522.5" y1="617.5" x2="548.8" y2="637.5" stroke="#3a3a3a" stroke-width="0.9" />
<line x1="450" y1="692.5" x2="433" y2="735" stroke="#3a3a3a" stroke-width="0.9" />
</g>
<g transform="translate(905 221.5) rotate(0) scale(1.0 1.0)">
<path d="M-10.5 -3.2 L-4.9 -9.6 Q-2 -10.4 0.4 -8.4 L7.1 -2.4 L10.5 -0.2 L10.1 5.1 L5.6 10 L2.6 7.7 Q-4 8.2 -9.4 2.1 Q-11.2 -0.8 -10.5 -3.2Z" fill="#fff" stroke="#1c1c1c" stroke-width="1.3" vector-effect="non-scaling-stroke"/>
<path d="M-10.5 -3.2 Q-7 -6.8 -2 -4.2 Q3.4 -1.2 3.2 7.6" fill="none" stroke="#1c1c1c" stroke-width="1.1" vector-effect="non-scaling-stroke"/>
<path d="M-9.8 1.4 Q-5 7.6 2.6 7.8" fill="none" stroke="#1c1c1c" stroke-width="2" vector-effect="non-scaling-stroke"/>
<path d="M-4.9 -9.6 L-2.6 -3.8" fill="none" stroke="#1c1c1c" stroke-width="1" vector-effect="non-scaling-stroke"/>
<path d="M4 3 L7.1 -2.4" fill="none" stroke="#1c1c1c" stroke-width="1.1" vector-effect="non-scaling-stroke"/>
<path d="M4 3 L9.8 5.4" fill="none" stroke="#9a9a9a" stroke-width="1" vector-effect="non-scaling-stroke"/>
<path d="M3 5.2 L5.8 6.4 L5.6 9.6" fill="none" stroke="#1c1c1c" stroke-width="1" vector-effect="non-scaling-stroke"/>
</g>
<g transform="translate(891.6 242.2) rotate(0) scale(1.0 1.0)">
<path d="M-10.5 -3.2 L-4.9 -9.6 Q-2 -10.4 0.4 -8.4 L7.1 -2.4 L10.5 -0.2 L10.1 5.1 L5.6 10 L2.6 7.7 Q-4 8.2 -9.4 2.1 Q-11.2 -0.8 -10.5 -3.2Z" fill="#fff" stroke="#1c1c1c" stroke-width="1.3" vector-effect="non-scaling-stroke"/>
<path d="M-10.5 -3.2 Q-7 -6.8 -2 -4.2 Q3.4 -1.2 3.2 7.6" fill="none" stroke="#1c1c1c" stroke-width="1.1" vector-effect="non-scaling-stroke"/>
<path d="M-9.8 1.4 Q-5 7.6 2.6 7.8" fill="none" stroke="#1c1c1c" stroke-width="2" vector-effect="non-scaling-stroke"/>
<path d="M-4.9 -9.6 L-2.6 -3.8" fill="none" stroke="#1c1c1c" stroke-width="1" vector-effect="non-scaling-stroke"/>
<path d="M4 3 L7.1 -2.4" fill="none" stroke="#1c1c1c" stroke-width="1.1" vector-effect="non-scaling-stroke"/>
<path d="M4 3 L9.8 5.4" fill="none" stroke="#9a9a9a" stroke-width="1" vector-effect="non-scaling-stroke"/>
<path d="M3 5.2 L5.8 6.4 L5.6 9.6" fill="none" stroke="#1c1c1c" stroke-width="1" vector-effect="non-scaling-stroke"/>
</g>
<g transform="translate(783 367.6) rotate(0) scale(1.03 1.03)">
<path d="M-10.5 -3.2 L-4.9 -9.6 Q-2 -10.4 0.4 -8.4 L7.1 -2.4 L10.5 -0.2 L10.1 5.1 L5.6 10 L2.6 7.7 Q-4 8.2 -9.4 2.1 Q-11.2 -0.8 -10.5 -3.2Z" fill="#fff" stroke="#1c1c1c" stroke-width="1.3" vector-effect="non-scaling-stroke"/>
<path d="M-10.5 -3.2 Q-7 -6.8 -2 -4.2 Q3.4 -1.2 3.2 7.6" fill="none" stroke="#1c1c1c" stroke-width="1.1" vector-effect="non-scaling-stroke"/>
<path d="M-9.8 1.4 Q-5 7.6 2.6 7.8" fill="none" stroke="#1c1c1c" stroke-width="2" vector-effect="non-scaling-stroke"/>
<path d="M-4.9 -9.6 L-2.6 -3.8" fill="none" stroke="#1c1c1c" stroke-width="1" vector-effect="non-scaling-stroke"/>
<path d="M4 3 L7.1 -2.4" fill="none" stroke="#1c1c1c" stroke-width="1.1" vector-effect="non-scaling-stroke"/>
<path d="M4 3 L9.8 5.4" fill="none" stroke="#9a9a9a" stroke-width="1" vector-effect="non-scaling-stroke"/>
<path d="M3 5.2 L5.8 6.4 L5.6 9.6" fill="none" stroke="#1c1c1c" stroke-width="1" vector-effect="non-scaling-stroke"/>
</g>
<g id="c7m">
<ellipse cx="825.6" cy="69.2" rx="6" ry="8.3" transform="rotate(20 825.6 69.2)" fill="#fff" stroke="#1c1c1c" stroke-width="1.2"/>
<path d="M823.4 62.2 L827.6 60.6 M826.6 77.4 L830.4 76.4" fill="none" stroke="#1c1c1c" stroke-width="1.2" />
<ellipse cx="829.2" cy="68.4" rx="6.3" ry="8.4" transform="rotate(20 829.2 68.4)" fill="#fff" stroke="#1c1c1c" stroke-width="1.4"/>
<ellipse cx="829.3" cy="68.6" rx="4.7" ry="6.8" transform="rotate(20 829.3 68.6)" fill="none" stroke="#1c1c1c" stroke-width="0.9"/>
<path d="M819.4 71.6 L823.2 70 L829.4 74.7 L827.9 79.4 L824.8 80.1 L819.4 76.3 Z" fill="#fff" stroke="#1c1c1c" stroke-width="1.3" />
<path d="M819.4 71.6 L825.4 76 L824.8 80.1 M825.4 76 L829.4 74.7" fill="none" stroke="#1c1c1c" stroke-width="1.1" />
<path d="M821 73.6 L826.6 75 M820.6 75 L825 76.6" fill="none" stroke="#9a9a9a" stroke-width="0.7" />
</g>
<g id="c7lr">
<ellipse cx="889.4" cy="143.6" rx="9.2" ry="7.2" transform="rotate(-12 889.4 143.6)" fill="#fff" stroke="#1c1c1c" stroke-width="1.2"/>
<ellipse cx="890.6" cy="145.6" rx="9" ry="7" transform="rotate(-12 890.6 145.6)" fill="#fff" stroke="#1c1c1c" stroke-width="1.2"/>
<ellipse cx="890.6" cy="145.2" rx="7" ry="5" transform="rotate(-12 890.6 145.2)" fill="none" stroke="#1c1c1c" stroke-width="1"/>
<path d="M878 140.4 L881.4 139.6 L882.4 150.8 L879.2 151.8 Z" fill="#fff" stroke="#1c1c1c" stroke-width="1.2" />
<path d="M881.6 142.6 L884.6 143.6 M882.2 149 L885.4 149.6" fill="none" stroke="#1c1c1c" stroke-width="1" />
</g>
<g id="c7l">
<path d="M148.6 613.2 L152.8 612 L154 620 L150 622.2 L148.6 621 Z" fill="#fff" stroke="#1c1c1c" stroke-width="1.2" />
<ellipse cx="143.2" cy="617" rx="6.3" ry="8.8" transform="rotate(-14 143.2 617)" fill="#fff" stroke="#1c1c1c" stroke-width="1.2"/>
<path d="M146.6 611 L147.4 624.4" fill="none" stroke="#1c1c1c" stroke-width="1" />
<ellipse cx="139.2" cy="618.3" rx="6.4" ry="8.8" transform="rotate(-14 139.2 618.3)" fill="#fff" stroke="#1c1c1c" stroke-width="2"/>
<path d="M141.4 610.6 C142.3 611.7 143.6 612.6 144.2 614 C144.8 615.6 145 617.3 144.8 619 C144.6 620.8 143.8 622.4 143 624 C142.6 624.8 141.7 625.3 141 626" fill="none" stroke="#1c1c1c" stroke-width="1" />
</g>
<g transform="translate(798.4 362.6) rotate(0) scale(1.0 1.0)">
<ellipse cx="0" cy="0" rx="8.2" ry="4.9" transform="rotate(38 0 0)" fill="none" stroke="#1c1c1c" stroke-width="2.2"/>
<path d="M-3 -1.4 L0.6 2.4" fill="none" stroke="#9a9a9a" stroke-width="0.9" vector-effect="non-scaling-stroke"/>
<ellipse cx="4.6" cy="8.6" rx="3.3" ry="2.1" transform="rotate(30 4.6 8.6)" fill="none" stroke="#1c1c1c" stroke-width="2"/>
<path d="M0.2 3.4 Q3 4.6 4.6 6.6" fill="none" stroke="#1c1c1c" stroke-width="2" vector-effect="non-scaling-stroke"/>
</g>
<g transform="translate(676.6 520.2) rotate(0) scale(0.78 0.78)">
<ellipse cx="0" cy="0" rx="8.2" ry="4.9" transform="rotate(38 0 0)" fill="none" stroke="#1c1c1c" stroke-width="2.8"/>
<path d="M-3 -1.4 L0.6 2.4" fill="none" stroke="#9a9a9a" stroke-width="0.9" vector-effect="non-scaling-stroke"/>
<ellipse cx="4.6" cy="8.6" rx="3.3" ry="2.1" transform="rotate(30 4.6 8.6)" fill="none" stroke="#1c1c1c" stroke-width="2.6"/>
<path d="M0.2 3.4 Q3 4.6 4.6 6.6" fill="none" stroke="#1c1c1c" stroke-width="2" vector-effect="non-scaling-stroke"/>
</g>
<g id="c18a">
<path d="M526.5 96 Q528.6 91 534 89.2 Q538.6 88.6 543 94.5 L545 98.5 L547 97.5 Q549.6 97.6 549 99.8 L548 102 L551 105.2 L539.5 115.8 L537 113 L529.5 109 L528.2 104.5 L531 102 L527.6 99.4 Z" fill="#fff" stroke="#1c1c1c" stroke-width="1.4" />
<path d="M528.6 97.6 C529.7 96.2 530.3 94 532 93.4 C533.4 92.9 534.9 94.1 536 95 C537.6 96.4 538.8 98.2 540 100 C540.9 101.4 541.5 103.1 542.2 104.6" fill="none" stroke="#1c1c1c" stroke-width="1" />
<path d="M530.6 98.6 C531.5 97.7 532.1 96 533.4 96 C534.7 96 535.7 97.5 536.4 98.6 C537.6 100.4 538.1 102.5 539 104.4" fill="none" stroke="#1c1c1c" stroke-width="1" />
<path d="M531.6 101.8 C532.5 101.1 533.2 99.3 534.4 99.6 C535.8 99.9 536.4 101.7 537 103 C537.5 103.9 537.4 105 537.6 106" fill="none" stroke="#1c1c1c" stroke-width="2.2" />
<path d="M548 102 L537.4 110.6" fill="none" stroke="#1c1c1c" stroke-width="1.8" />
<path d="M531 102 L537.4 106.4 M528.4 104.6 L536.8 110.4 L537 113" fill="none" stroke="#1c1c1c" stroke-width="1.1" />
<path d="M540.6 91.8 L543.4 97.6" fill="none" stroke="#1c1c1c" stroke-width="0.9" />
</g>
<g id="c18b">
<path d="M679.3 234.3 L680.2 233.1 Q681.6 225 685.2 222 Q687.6 220.2 692.8 221.1 L699.6 224.8 Q700.6 225.8 699 227.9 L698.1 230.2 L701.6 235.5 L701.9 239.3 L692.8 248.1 L681.4 241.3 L680.5 240.2 L680.8 236.7 Z" fill="#fff" stroke="#1c1c1c" stroke-width="1.4" />
<path d="M685.6 238.2 C685.3 236.3 684.5 234.4 684.6 232.5 C684.7 230.7 685.4 228.8 686.4 227.3 C687.5 225.7 689.3 224.8 690.8 223.6" fill="none" stroke="#1c1c1c" stroke-width="1" />
<path d="M688 239 C687.8 237 687.2 235 687.4 233 C687.6 231.5 688.3 230.1 689.2 229 C690.1 227.8 691.6 227.1 692.8 226.2" fill="none" stroke="#1c1c1c" stroke-width="1" />
<path d="M690.8 238.4 C690.6 236.7 689.9 234.9 690.2 233.2 C690.4 232 691.7 231.3 692.4 230.4" fill="none" stroke="#1c1c1c" stroke-width="2" />
<path d="M680.8 236.7 L692.4 243.6 L701.6 235.5 M692.4 243.6 L692.8 248.1" fill="none" stroke="#1c1c1c" stroke-width="1.1" />
<path d="M690.8 223.6 L698 227.4 M692.6 231.4 L698.1 230.2 M693 238 L697.6 233.6" fill="none" stroke="#1c1c1c" stroke-width="1" />
<path d="M694 246 L700.6 239.6" fill="none" stroke="#1c1c1c" stroke-width="1.6" />
</g>
<g id="c18c">
<path d="M420.4 731.5 L424.9 732.7 Q426 730.8 427.6 731.2 Q429.6 732 430.9 734.9 L434.9 734.9 L439.9 736.9 Q442.4 738.6 442.1 740.9 L439.4 749.9 Q438.6 751 437.4 750.6 L433.9 748.6 L432.2 747.8 L430.4 751.9 Q428.4 753.4 425.9 752.9 L415.2 745.4 Z" fill="#fff" stroke="#1c1c1c" stroke-width="1.5" />
<path d="M421 731.8 L430.6 735.4 L434.6 735.6 L440 737.6" fill="none" stroke="#1c1c1c" stroke-width="2.2" />
<path d="M419.4 737.4 L426 740.4 L432.6 742.4 M417.4 741.9 L431.9 746.9" fill="none" stroke="#1c1c1c" stroke-width="1.5" />
<path d="M434.6 735.6 L433 744 L432.2 747.8" fill="none" stroke="#1c1c1c" stroke-width="2" />
<path d="M436 739.6 L440.6 741.2 M436 739.6 L434 748.4" fill="none" stroke="#1c1c1c" stroke-width="1.1" />
<path d="M425.4 733.4 L423.6 738.8 M429.8 736 L428.6 741 M421.4 744.6 L420.8 748.4 M426.4 746 L425.4 751.6 M428.6 747 L427.6 752" fill="none" stroke="#9a9a9a" stroke-width="0.8" />
</g>
<g id="c19a">
<path d="M664 291.4 L667 298 L672.6 300 L678 303.4 L672.4 304.4 L668.4 305.8 L666.6 302.4 Z" fill="#fff" stroke="#1c1c1c" stroke-width="1.2" />
<ellipse cx="671" cy="297.4" rx="6.2" ry="8.4" transform="rotate(-8 671 297.4)" fill="#fff" stroke="#1c1c1c" stroke-width="1.2"/>
<ellipse cx="676.6" cy="298.2" rx="6.2" ry="8.6" transform="rotate(-8 676.6 298.2)" fill="#fff" stroke="#1c1c1c" stroke-width="1.3"/>
<ellipse cx="676.8" cy="298.4" rx="4.4" ry="6.6" transform="rotate(-8 676.8 298.4)" fill="none" stroke="#1c1c1c" stroke-width="0.9"/>
<path d="M670 289.2 L675.8 289.8 M671.6 305.8 L677.4 306.6" fill="none" stroke="#1c1c1c" stroke-width="1.1" />
<path d="M667.6 303 Q668.6 309 671.6 310 Q675 309.4 676.4 306.4" fill="none" stroke="#1c1c1c" stroke-width="1.2" />
<path d="M672.6 305 Q676 308.6 680.6 308.2 L678 305" fill="none" stroke="#1c1c1c" stroke-width="1.1" />
</g>
<g id="c19b">
<path d="M620.8 378.4 L628.8 369.6 L641.8 382.6 L633.4 390.8 Q626 391 622.4 386 Q620.2 382 620.8 378.4Z" fill="#fff" stroke="#1c1c1c" stroke-width="1.3" />
<ellipse cx="627.2" cy="384.2" rx="7.6" ry="5.2" transform="rotate(42 627.2 384.2)" fill="none" stroke="#1c1c1c" stroke-width="1.2"/>
<ellipse cx="633.2" cy="378.9" rx="2.6" ry="2.6" transform="rotate(0 633.2 378.9)" fill="none" stroke="#1c1c1c" stroke-width="1"/>
<path d="M624.2 375.2 L635.4 386.6" fill="none" stroke="#1c1c1c" stroke-width="1" />
</g>
<g id="c19c">
<path d="M1012.7 78.8 L1013.8 83.8 L1011.6 89.9 Q1012.4 92 1013.8 92.1 L1018.8 89.3 L1016.5 86 L1016 80.6 Z" fill="#fff" stroke="#1c1c1c" stroke-width="1.3" />
<path d="M1016.5 86 L1022.1 95.4 Q1023.6 96.2 1024.8 95.4 L1023.2 89.9 L1019.4 85.4 Z" fill="#fff" stroke="#1c1c1c" stroke-width="1.3" />
<path d="M1016.4 80.8 L1016.4 87.2 Q1018.6 92.8 1025 93.2 Q1031 92.6 1031.8 88.6 L1031.8 80.8 Z" fill="#fff" stroke="#1c1c1c" stroke-width="1.3" />
<ellipse cx="1024.1" cy="80.4" rx="7.7" ry="4.5" transform="rotate(0 1024.1 80.4)" fill="#fff" stroke="#1c1c1c" stroke-width="1.3"/>
<path d="M1017.4 83.4 Q1024 89.4 1031.4 83.6" fill="none" stroke="#1c1c1c" stroke-width="1.2" />
<path d="M1013.8 83.8 L1016.5 86 M1013.8 92.1 L1016.5 86" fill="none" stroke="#1c1c1c" stroke-width="1.1" />
<path d="M1019.4 78.4 L1019.4 84 M1029.6 79.4 L1029.6 90.6 M1027 85.6 L1027 92.4" fill="none" stroke="#9a9a9a" stroke-width="0.8" />
</g>
<g id="p10">
<path d="M997 89.8 Q998.4 86.6 1001.6 87.4 L1007.6 91.4 Q1008.8 93.6 1007 96 L1004.2 98 L1001.4 96.4 L1002.6 93.6 L999.4 91.8 L998.6 94.2 Z" fill="#fff" stroke="#1c1c1c" stroke-width="1.2" />
<path d="M1001.4 96.4 L1004.6 94.2 L1007.4 92.4" fill="none" stroke="#1c1c1c" stroke-width="0.9" />
</g>
<ellipse cx="987.4" cy="110" rx="5.4" ry="3.1" transform="rotate(32 987.4 110)" fill="#fff" stroke="#1c1c1c" stroke-width="2"/>
<g id="p11">
<path d="M942.6 87.4 L965.6 74.6 Q966 72.4 968 72.6 Q970.2 73 969.8 75.4 L967.2 97 L958 101 L972.4 115.4 L986 124 Q987 125 986.6 126.6 L984.6 133.6 Q984 135.4 982 134.8 L976.4 132.4 L975.4 128 L965.6 122 L963.6 129.4 Q962 131.8 958.8 130.6 Q953 125 945.6 109.4 Z" fill="#fff" stroke="#1c1c1c" stroke-width="1.3" />
<path d="M946.8 95.4 C947.7 94.5 948.4 93.1 949.6 92.8 C950.8 92.5 952.1 93.2 953 94 C955.6 96.2 957.7 99 960 101.6 C963.6 105.6 967.1 109.6 970.6 113.6" fill="none" stroke="#1c1c1c" stroke-width="1.1" />
<path d="M947.4 96.2 C947.7 97.3 947.5 98.7 948.2 99.6 C950.1 102.2 952.6 104.4 955 106.6 C957 108.5 959 110.5 961.4 111.8 C963 112.6 964.9 112.3 966.6 112.6 C967.9 112.9 969.3 113.3 970.6 113.6" fill="none" stroke="#1c1c1c" stroke-width="1.1" />
<path d="M970.6 113.6 L964.6 120.4 L965.6 122 M972.4 115.4 L970.6 113.6" fill="none" stroke="#1c1c1c" stroke-width="1.1" />
<ellipse cx="958.8" cy="89.2" rx="2.4" ry="3.2" transform="rotate(35 958.8 89.2)" fill="none" stroke="#1c1c1c" stroke-width="1"/>
<ellipse cx="956.8" cy="123" rx="2.2" ry="3.6" transform="rotate(-35 956.8 123)" fill="none" stroke="#1c1c1c" stroke-width="1"/>
<ellipse cx="975.6" cy="124.8" rx="3" ry="1.7" transform="rotate(35 975.6 124.8)" fill="none" stroke="#1c1c1c" stroke-width="1"/>
<path d="M965.6 74.6 L968.4 76.2" fill="none" stroke="#1c1c1c" stroke-width="0.9" />
</g>
<g id="p12">
<path d="M968.6 92.6 Q970 90.4 972.4 91.6 L976.6 93.6 L975 99.2 L970.6 97.6 Q968.2 95.6 968.6 92.6Z" fill="#fff" stroke="#1c1c1c" stroke-width="1.2" />
<path d="M976.4 92.4 Q978.6 91.6 982 93 L984.6 96.4 Q985.4 100 983.6 102.6 L979.8 104.4 Q976 103.6 974.4 101 Q973.6 96 976.4 92.4Z" fill="#fff" stroke="#1c1c1c" stroke-width="1.4" />
<path d="M979 92.2 L978 98 L974.8 100.6 M978 98 L984 100.4 M980.4 96.6 L980 103.6" fill="none" stroke="#1c1c1c" stroke-width="0.9" />
</g>
<g id="p13">
<path d="M917.4 67 L924.6 65.4 L934 58.6 Q936.4 57.6 937.8 59.4 L940.4 62 L939.8 73.2 L923.4 83.4 L917.6 80.8 Z" fill="#fff" stroke="#1c1c1c" stroke-width="1.3" />
<path d="M924.6 65.4 L923.4 83.4" fill="none" stroke="#1c1c1c" stroke-width="1.1" />
<path d="M926.2 66.6 L935.6 59.6 L936 70 M928 67 L936.6 61.4" fill="none" stroke="#1c1c1c" stroke-width="1" />
<ellipse cx="931.4" cy="73.6" rx="2.6" ry="3" transform="rotate(20 931.4 73.6)" fill="none" stroke="#1c1c1c" stroke-width="1"/>
<path d="M938.4 60.6 L937.8 72" fill="none" stroke="#1c1c1c" stroke-width="0.9" />
</g>
<g id="p8">
<path d="M918.4 196 L921.6 202.2 Q923.4 203.8 924.9 203.4 L928.2 200.5 L928.6 197" fill="#fff" stroke="#1c1c1c" stroke-width="1.3" />
<path d="M922.6 199.6 L925.6 202.4" fill="none" stroke="#1c1c1c" stroke-width="1.6" />
<path d="M930.7 158.2 L916.6 174.8 L917.4 178.1 L912.5 185.6 Q911.8 187.6 912.9 188.9 L918.3 194.7 L924 198.8 L929 196.4 L934.9 191.4 L935.6 186.4 L948.1 174.8 L949 183.9 L954.8 177.3 L958.9 169.8 L963 159.9 L963.9 157.4 Z" fill="#fff" stroke="#1c1c1c" stroke-width="1.4" />
<path d="M958.9 169.8 C958.5 171.9 958.5 174.1 957.6 176 C956.5 178.2 954.8 180 953 181.6 C951.9 182.6 950.5 183.5 949 183.9 C947.4 184.3 945.6 184.3 944 183.9 C943 183.6 942.4 182.6 941.6 182" fill="none" stroke="#1c1c1c" stroke-width="1.2" />
<path d="M961.6 163 C961.3 165.7 961.4 168.4 960.6 171 C959.8 173.4 958.2 175.4 957 177.6" fill="none" stroke="#1c1c1c" stroke-width="1" />
<path d="M946.5 144.1 Q948 141.6 950.2 142 L954.8 145 L956.4 149.6" fill="#fff" stroke="#1c1c1c" stroke-width="1.2" />
<path d="M955.6 146.4 L956.2 143.4 Q958 141.2 960.4 142.2 Q962.4 143.2 962.2 145 L962 149.6 Q960.6 151.6 958 151" fill="#fff" stroke="#1c1c1c" stroke-width="1.3" />
<path d="M955.8 148.6 Q957.6 152.8 962.6 152.4 L962.8 156" fill="none" stroke="#1c1c1c" stroke-width="1.2" />
<path d="M941.9 141.6 L963.9 157.4 L953.1 170.7 L930.7 155.3 Z" fill="#fff" stroke="#1c1c1c" stroke-width="1.4" />
<path d="M930.9 156.6 L952.9 171.9" fill="none" stroke="#1c1c1c" stroke-width="1.8" />
<path d="M930.7 155.3 L930.7 158.2 M953.1 170.7 L953.3 174" fill="none" stroke="#1c1c1c" stroke-width="1.2" />
<path d="M958.6 154.4 L949 166.8" fill="none" stroke="#9a9a9a" stroke-width="0.8" />
<path d="M932.4 160 L946.4 169.2 L939.8 177.4 L927.4 168.2 Z" fill="#fff" stroke="#8a8a8a" stroke-width="1" />
<path d="M927.4 168.2 L939.8 177.4" fill="none" stroke="#1c1c1c" stroke-width="1.3" />
<path d="M929.6 158.6 L917.4 173.4 M931.6 160.6 L919.4 175.6" fill="none" stroke="#1c1c1c" stroke-width="1.3" />
<path d="M916.6 174.8 L921 177.8 M917.4 178.1 L920.4 180" fill="none" stroke="#1c1c1c" stroke-width="1.1" />
<path d="M925 168 L920.4 174.4 L922 176 M927 169.6 L923 175.4" fill="none" stroke="#1c1c1c" stroke-width="1.2" />
<path d="M929.4 171.4 L924.2 178.4 L931 183.6 L936.6 176.6" fill="none" stroke="#1c1c1c" stroke-width="1.2" />
<path d="M921 177.6 L919 180.6 L928 187.4 L931 183.6" fill="none" stroke="#1c1c1c" stroke-width="1.2" />
<path d="M933.6 179.6 L937.4 182.4 M935.4 177.6 L939 180.2" fill="none" stroke="#1c1c1c" stroke-width="1.2" />
<path d="M939.8 177.4 L935.6 186.4 M946.4 169.2 L948.1 174.8" fill="none" stroke="#1c1c1c" stroke-width="1.2" />
<path d="M944.6 171.4 L938.4 180.2 L936.2 185.2" fill="none" stroke="#9a9a9a" stroke-width="0.8" />
<path d="M912.9 186.6 C913.7 185.5 914.1 183.8 915.4 183.4 C917.2 182.9 919.3 183.6 921 184.4 C923.4 185.5 925.6 187.1 927.4 189 C928.5 190.2 929 192 929.4 193.6 C929.6 194.5 929.1 195.5 929 196.4" fill="none" stroke="#1c1c1c" stroke-width="1.3" />
<ellipse cx="920" cy="189.4" rx="6.6" ry="3.2" transform="rotate(35 920 189.4)" fill="none" stroke="#1c1c1c" stroke-width="1.1"/>
<path d="M916.4 187.6 Q918.6 186.6 919.6 188.6 Q920.6 190.8 923.4 190.4 M918 190 L921.6 192.2" fill="none" stroke="#1c1c1c" stroke-width="1.6" />
</g>
<g id="p14">
<path d="M755 44.6 L769.4 49.2" fill="none" stroke="#1c1c1c" stroke-width="7.8" stroke-linecap="butt"/>
<path d="M755 44.6 L769.4 49.2" fill="none" stroke="#fff" stroke-width="5.4" stroke-linecap="butt"/>
<ellipse cx="755" cy="44.6" rx="1.7" ry="3.4" transform="rotate(17.3 755 44.6)" fill="#fff" stroke="#1c1c1c" stroke-width="1.1"/>
<path d="M760.4 42.6 L759.2 49 M764 43.6 L762.8 50.2" fill="none" stroke="#1c1c1c" stroke-width="1" />
<path d="M790 57 L810.8 64.2" fill="none" stroke="#1c1c1c" stroke-width="7.6" stroke-linecap="butt"/>
<path d="M790 57 L810.8 64.2" fill="none" stroke="#fff" stroke-width="5.2" stroke-linecap="butt"/>
<ellipse cx="810.8" cy="64.2" rx="1.5" ry="3.2" transform="rotate(17.3 810.8 64.2)" fill="#fff" stroke="#1c1c1c" stroke-width="1.1"/>
<path d="M796.4 55.8 L795.2 62.2 M800 57 L798.8 63.4 M802.8 58 L801.6 64.4" fill="none" stroke="#1c1c1c" stroke-width="1" />
<path d="M786 36.6 L793.6 40 Q799.6 45 798.2 52 Q796.4 61 792.6 65.4 Q788.6 70 783.6 70.4 L776 68 Z" fill="#fff" stroke="#1c1c1c" stroke-width="1.3" />
<ellipse cx="786" cy="54" rx="5.4" ry="15.6" transform="rotate(17.3 786 54)" fill="none" stroke="#9a9a9a" stroke-width="1"/>
<ellipse cx="792.6" cy="53.4" rx="4.4" ry="11.6" transform="rotate(17.3 792.6 53.4)" fill="#fff" stroke="#1c1c1c" stroke-width="1"/>
<ellipse cx="778.2" cy="52.6" rx="6.4" ry="18.4" transform="rotate(17.3 778.2 52.6)" fill="#fff" stroke="#1c1c1c" stroke-width="1.4"/>
<path d="M779.4 33.6 L784.8 35.4 M768.6 68.8 L773.6 70.4" fill="none" stroke="#1c1c1c" stroke-width="1.3" />
<ellipse cx="773.2" cy="51" rx="6.4" ry="18.4" transform="rotate(17.3 773.2 51)" fill="#fff" stroke="#1c1c1c" stroke-width="1.3"/>
<path d="M784.6 36.6 Q788 44 783.4 57 Q780 66 773.4 70.2" fill="none" stroke="#1c1c1c" stroke-width="1.6" />
<path d="M763 47.2 L769.6 49.3" fill="none" stroke="#1c1c1c" stroke-width="7.8" stroke-linecap="butt"/>
<path d="M763 47.2 L769.6 49.3" fill="none" stroke="#fff" stroke-width="5.4" stroke-linecap="butt"/>
<path d="M791.4 57.5 L797 59.4" fill="none" stroke="#1c1c1c" stroke-width="7.6" stroke-linecap="butt"/>
<path d="M791.4 57.5 L797 59.4" fill="none" stroke="#fff" stroke-width="5.2" stroke-linecap="butt"/>
<path d="M796.4 55.8 L795.2 62.2" fill="none" stroke="#1c1c1c" stroke-width="1" />
</g>
<g id="p21">
<ellipse cx="747" cy="22.4" rx="2.7" ry="3.5" transform="rotate(25 747 22.4)" fill="none" stroke="#333" stroke-width="1.9"/>
<ellipse cx="739.8" cy="31.6" rx="3.4" ry="2.9" transform="rotate(30 739.8 31.6)" fill="none" stroke="#333" stroke-width="1.9"/>
<path d="M748.8 25.6 C748.4 26.6 748.3 27.7 747.6 28.6 C746.8 29.6 745.1 29.8 744.6 31 C744.3 31.7 745.1 32.6 745.8 33 C746.7 33.6 748.3 32.7 749 33.6 C749.8 34.7 749.3 36.3 749.4 37.6" fill="none" stroke="#333" stroke-width="1.9" />
<path d="M743.4 30.4 C742.7 31.9 741.9 33.4 741.4 35 C740.8 37 740.2 39 740.2 41 C740.2 42.7 740.5 44.5 741.4 46 C741.8 46.7 743 47.3 743.8 47 C744.8 46.7 745.4 45.5 746 44.6 C746.6 43.7 746.8 42.6 747.2 41.6" fill="none" stroke="#333" stroke-width="1.9" />
<path d="M741 34 C741.9 34.7 742.5 36.1 743.6 36 C744.7 35.9 745.2 34.4 746 33.6" fill="none" stroke="#333" stroke-width="1.9" />
</g>
<g id="p22">
<path d="M202.5 609.3 L208.8 606.6 L211.6 607.2 L211.4 612 L208.4 617 L203.3 614.9 Z" fill="#fff" stroke="#1c1c1c" stroke-width="1.3" />
<path d="M203.6 611.6 L208.6 609.4 L208.8 614.6 M205.6 609 L206.2 615.6" fill="none" stroke="#1c1c1c" stroke-width="1.2" />
<path d="M204 612.6 L208.4 611" fill="none" stroke="#1c1c1c" stroke-width="1.6" />
<path d="M211 612.6 L208.3 617.1 L213.2 628.1 L216 628.9 L229.8 623.7 L230.1 617.1 L229 613.7 L228.2 609.9 L226 608.2 Z" fill="#fff" stroke="#1c1c1c" stroke-width="1.4" />
<path d="M214.1 598.3 Q212.6 600.4 212.7 601.6 L211.6 607.1 L211 612.6 L217.1 620.9 L229.8 616.5 L229 613.7 L228.2 609.9 L226 608.2 L225.1 603.2 L223.7 599.4 Z" fill="#fff" stroke="#1c1c1c" stroke-width="1.3" />
<path d="M212.9 598.8 L214.6 598.2 L213.4 603.4 L211.4 606.6 Z" fill="#2a2a2a" stroke="#1c1c1c" stroke-width="0.8" />
<path d="M224.4 600 L225.6 603.2 L226.6 608.6 L225.4 608 Z" fill="#2a2a2a" stroke="#1c1c1c" stroke-width="0.6" />
<path d="M215.2 593.8 L215.2 600.6 Q218.8 603 222.4 600.8 L222.4 593.8" fill="#fff" stroke="#1c1c1c" stroke-width="1.3" />
<ellipse cx="218.8" cy="593.8" rx="3.6" ry="1.7" transform="rotate(0 218.8 593.8)" fill="#fff" stroke="#1c1c1c" stroke-width="1.2"/>
<path d="M215 604.2 Q218.4 606.4 221.4 605.2" fill="none" stroke="#1c1c1c" stroke-width="1.7" />
<path d="M215.4 604.6 L214.4 614 M221.6 605.4 L223.6 613.4" fill="none" stroke="#9a9a9a" stroke-width="0.9" />
<path d="M217.6 606 L217.4 612 M219.4 606 L219.6 612" fill="none" stroke="#9a9a9a" stroke-width="0.8" />
<path d="M217.1 620.9 L216.6 626 M217.1 620.9 L229.8 616.5" fill="none" stroke="#1c1c1c" stroke-width="1.4" />
<path d="M211 612.6 L217.1 620.9" fill="none" stroke="#1c1c1c" stroke-width="1.3" />
<path d="M216.6 626 L229.6 621.2" fill="none" stroke="#9a9a9a" stroke-width="0.8" />
<path d="M214.6 614.4 L219 617.6 L224 613.6" fill="none" stroke="#9a9a9a" stroke-width="0.8" />
</g>
<g id="p4">
<path d="M1054.9 535 L1050 531.9 Q1047.6 531.6 1046.6 534 Q1045.8 536.6 1047.2 538.4 L1052.3 540.8 Z" fill="#fff" stroke="#1c1c1c" stroke-width="1.4" />
<path d="M1054.9 535 L1059.1 533.1 Q1061 533.6 1062 535.5 L1064.2 538.6 Q1065 541 1064 543 L1060.7 546.3 Q1058 547 1055.8 545.9 L1052.7 543.9 Q1051.6 542 1052.5 539.9 Z" fill="#fff" stroke="#1c1c1c" stroke-width="1.5" />
<path d="M1059.1 533.6 L1058.4 540 L1055.4 545.4 M1058.4 540 L1063.6 542.6" fill="none" stroke="#777" stroke-width="0.9" />
<path d="M1060.6 539 L1060.8 542.4" fill="none" stroke="#555" stroke-width="1.6" />
<path d="M1055.6 536.4 L1054 542" fill="none" stroke="#9a9a9a" stroke-width="0.8" />
</g>
<g id="axes">
<line x1="738" y1="136" x2="503" y2="401" stroke="#8a8a8a" stroke-width="1" stroke-dasharray="12 2.5 2 2.5"/>
<line x1="738" y1="136" x2="897" y2="227" stroke="#8a8a8a" stroke-width="1" stroke-dasharray="12 2.5 2 2.5"/>
<line x1="623.5" y1="326" x2="935" y2="478.5" stroke="#8a8a8a" stroke-width="1" stroke-dasharray="12 2.5 2 2.5"/>
<line x1="967" y1="495" x2="1047.5" y2="532" stroke="#8a8a8a" stroke-width="1" stroke-dasharray="12 2.5 2 2.5"/>
<line x1="728.6" y1="32.1" x2="734.5" y2="34.2" stroke="#8a8a8a" stroke-width="1" />
<line x1="744.7" y1="38.9" x2="752.5" y2="41.6" stroke="#8a8a8a" stroke-width="1" />
<line x1="811.6" y1="64.2" x2="817" y2="66.4" stroke="#8a8a8a" stroke-width="1" />
<line x1="832" y1="72" x2="838.6" y2="74.4" stroke="#8a8a8a" stroke-width="1" />
<line x1="1000.4" y1="96.2" x2="992.6" y2="106" stroke="#8a8a8a" stroke-width="1" />
<line x1="984" y1="114.4" x2="979.4" y2="120.6" stroke="#8a8a8a" stroke-width="1" />
<line x1="972" y1="130" x2="961.4" y2="143.4" stroke="#8a8a8a" stroke-width="1" />
<line x1="923.4" y1="203" x2="877.6" y2="256.4" stroke="#8a8a8a" stroke-width="1" stroke-dasharray="12 2.5 2 2.5"/>
<line x1="940" y1="75.4" x2="947.4" y2="80.8" stroke="#8a8a8a" stroke-width="1" />
<line x1="961.4" y1="90.6" x2="967.6" y2="93.2" stroke="#8a8a8a" stroke-width="1" />
<line x1="838.6" y1="304.6" x2="779" y2="372" stroke="#8a8a8a" stroke-width="1" stroke-dasharray="12 2.5 2 2.5"/>
<line x1="796" y1="366" x2="778.5" y2="385.5" stroke="#8a8a8a" stroke-width="1" stroke-dasharray="12 2.5 2 2.5"/>
<line x1="157.6" y1="607.2" x2="147" y2="612.6" stroke="#8a8a8a" stroke-width="1" />
<line x1="131.4" y1="621" x2="122" y2="625.8" stroke="#8a8a8a" stroke-width="1" />
<line x1="634" y1="379" x2="642" y2="372.8" stroke="#8a8a8a" stroke-width="1" />
<line x1="656.8" y1="361.4" x2="664.4" y2="356.2" stroke="#8a8a8a" stroke-width="1" />
<line x1="667.4" y1="310" x2="663.4" y2="315" stroke="#8a8a8a" stroke-width="1" />
<line x1="681.4" y1="515.4" x2="678.6" y2="519" stroke="#8a8a8a" stroke-width="1" />
<line x1="675" y1="523.6" x2="672.6" y2="526.4" stroke="#8a8a8a" stroke-width="1" />
</g>
<g id="labels" opacity="0.995">
<path class="g" d="M763 0H583V1147Q518 1085 412.5 1023T223 930V1104Q373 1174.5 485 1274.5T644 1472H763Z" transform="translate(536.7 62.4) scale(0.01279 -0.01279)"/>
<text x="551.3" y="62.4" font-size="26.2">8</text>
<text x="702.4" y="114.7" font-size="26.2">2</text>
<path class="g" d="M763 0H583V1147Q518 1085 412.5 1023T223 930V1104Q373 1174.5 485 1274.5T644 1472H763Z" transform="translate(717 114.7) scale(0.01279 -0.01279)"/>
<path class="g" d="M763 0H583V1147Q518 1085 412.5 1023T223 930V1104Q373 1174.5 485 1274.5T644 1472H763Z" transform="translate(744.2 114.9) scale(0.01279 -0.01279)"/>
<text x="758.8" y="114.9" font-size="26.2">4</text>
<text x="800.7" y="120.4" font-size="26.2">7</text>
<path class="g" d="M763 0H583V1147Q518 1085 412.5 1023T223 930V1104Q373 1174.5 485 1274.5T644 1472H763Z" transform="translate(819.9 143.9) scale(0.01279 -0.01279)"/>
<text x="834.5" y="143.9" font-size="26.2">5</text>
<text x="844.2" y="168.4" font-size="26.2">7</text>
<path class="g" d="M763 0H583V1147Q518 1085 412.5 1023T223 930V1104Q373 1174.5 485 1274.5T644 1472H763Z" transform="translate(929.4 42.4) scale(0.01279 -0.01279)"/>
<text x="944" y="42.4" font-size="26.2">3</text>
<path class="g" d="M763 0H583V1147Q518 1085 412.5 1023T223 930V1104Q373 1174.5 485 1274.5T644 1472H763Z" transform="translate(980.9 56.4) scale(0.01279 -0.01279)"/>
<text x="995.5" y="56.4" font-size="26.2">2</text>
<path class="g" d="M763 0H583V1147Q518 1085 412.5 1023T223 930V1104Q373 1174.5 485 1274.5T644 1472H763Z" transform="translate(1062.4 89.9) scale(0.01279 -0.01279)"/>
<text x="1077" y="89.9" font-size="26.2">9</text>
<path class="g" d="M763 0H583V1147Q518 1085 412.5 1023T223 930V1104Q373 1174.5 485 1274.5T644 1472H763Z" transform="translate(897.4 116.9) scale(0.01279 -0.01279)"/>
<path class="g" d="M763 0H583V1147Q518 1085 412.5 1023T223 930V1104Q373 1174.5 485 1274.5T644 1472H763Z" transform="translate(912 116.9) scale(0.01279 -0.01279)"/>
<path class="g" d="M763 0H583V1147Q518 1085 412.5 1023T223 930V1104Q373 1174.5 485 1274.5T644 1472H763Z" transform="translate(1046.9 141.4) scale(0.01279 -0.01279)"/>
<text x="1061.5" y="141.4" font-size="26.2">0</text>
<text x="1021.2" y="154.4" font-size="26.2">9</text>
<text x="985.2" y="214.9" font-size="26.2">8</text>
<path class="g" d="M763 0H583V1147Q518 1085 412.5 1023T223 930V1104Q373 1174.5 485 1274.5T644 1472H763Z" transform="translate(737.9 233.4) scale(0.01279 -0.01279)"/>
<text x="752.5" y="233.4" font-size="26.2">8</text>
<text x="941.7" y="270.4" font-size="26.2">7</text>
<path class="g" d="M763 0H583V1147Q518 1085 412.5 1023T223 930V1104Q373 1174.5 485 1274.5T644 1472H763Z" transform="translate(619.9 291.4) scale(0.01279 -0.01279)"/>
<text x="634.5" y="291.4" font-size="26.2">9</text>
<text x="910.2" y="320.4" font-size="26.2">5</text>
<text x="575.7" y="366.9" font-size="26.2">3</text>
<text x="879.7" y="380.4" font-size="26.2">6</text>
<path class="g" d="M763 0H583V1147Q518 1085 412.5 1023T223 930V1104Q373 1174.5 485 1274.5T644 1472H763Z" transform="translate(578.4 411.9) scale(0.01279 -0.01279)"/>
<text x="593" y="411.9" font-size="26.2">9</text>
<text x="824.2" y="418.4" font-size="26.2">7</text>
<text x="882.9" y="421.4" font-size="26.2">2</text>
<text x="897.5" y="421.4" font-size="26.2">0</text>
<path class="g" d="M763 0H583V1147Q518 1085 412.5 1023T223 930V1104Q373 1174.5 485 1274.5T644 1472H763Z" transform="translate(633.2 441.4) scale(0.01279 -0.01279)"/>
<text x="1070.2" y="504.4" font-size="26.2">4</text>
<text x="837.2" y="549.4" font-size="26.2">2</text>
<text x="713.4" y="580" font-size="26.2">2</text>
<text x="728" y="580" font-size="26.2">0</text>
<path class="g" d="M763 0H583V1147Q518 1085 412.5 1023T223 930V1104Q373 1174.5 485 1274.5T644 1472H763Z" transform="translate(271.9 535.4) scale(0.01279 -0.01279)"/>
<text x="286.5" y="535.4" font-size="26.2">7</text>
<text x="177.4" y="564.9" font-size="26.2">2</text>
<text x="192" y="564.9" font-size="26.2">2</text>
<text x="103.7" y="585.4" font-size="26.2">7</text>
<path class="g" d="M763 0H583V1147Q518 1085 412.5 1023T223 930V1104Q373 1174.5 485 1274.5T644 1472H763Z" transform="translate(494.4 614.4) scale(0.01279 -0.01279)"/>
<text x="509" y="614.4" font-size="26.2">6</text>
<path class="g" d="M763 0H583V1147Q518 1085 412.5 1023T223 930V1104Q373 1174.5 485 1274.5T644 1472H763Z" transform="translate(437.4 688.4) scale(0.01279 -0.01279)"/>
<text x="452" y="688.4" font-size="26.2">8</text>
</g>
</svg>
</body></html>
